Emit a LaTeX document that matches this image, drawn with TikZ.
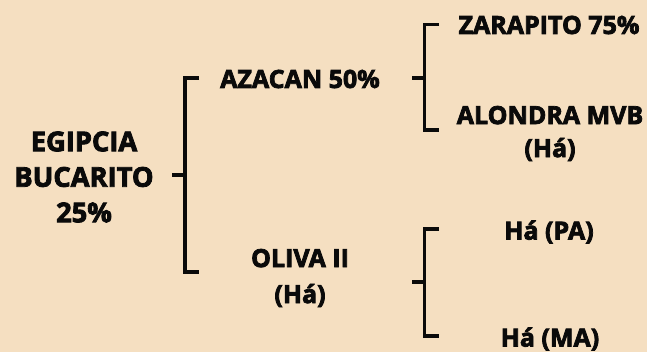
\documentclass[tikz,border=0pt]{standalone}
\usepackage{fontspec}
\setmainfont{Open Sans}[BoldFeatures={FakeBold=3}]
\definecolor{bg}{HTML}{F5DFC1}
\definecolor{ink}{HTML}{0A0A0A}
\begin{document}
\begin{tikzpicture}[x=1pt,y=-1pt,
  lbl/.style={text=ink,align=center,inner sep=0pt,font=\bfseries\fontsize{25}{33}\selectfont},
  biglbl/.style={lbl,font=\bfseries\fontsize{27.3}{35.5}\selectfont},
  brk/.style={draw=ink,line width=3.1pt,line cap=butt,line join=miter}]
\fill[bg] (0,0) rectangle (647,352);
\useasboundingbox (0,0) rectangle (647,352);
\node[biglbl] (egip) at (84,177) {EGIPCIA\\BUCARITO\\25\%};
\node[lbl] (azacan) at (300,79) {AZACAN 50\%};
\node[lbl] (zara) at (549,25) {ZARAPITO 75\%};
\node[lbl] (alondra) at (550,133.5) {ALONDRA MVB\\(Há)};
\node[lbl,font=\bfseries\fontsize{25}{36}\selectfont] (oliva) at (300,278) {OLIVA II\\(Há)};
\node[lbl] (hapa) at (549,232) {Há (PA)};
\node[lbl] (hama) at (550,339) {Há (MA)};
% bracket 1
\coordinate (b1a) at (199,78);
\coordinate (b1b) at (199,272);
\coordinate (b1t) at (172,175);
\draw[brk] (b1a) -- (185,78) -- (185,272) -- (b1b);
\draw[brk] (b1t) -- (185,175);
% bracket 2
\coordinate (b2a) at (439,24.5);
\coordinate (b2b) at (439,130);
\coordinate (b2t) at (412,78);
\draw[brk] (b2a) -- (424.5,24.5) -- (424.5,130) -- (b2b);
\draw[brk] (b2t) -- (424.5,78);
% bracket 3
\coordinate (b3a) at (439,229);
\coordinate (b3b) at (439,336);
\coordinate (b3t) at (412,282);
\draw[brk] (b3a) -- (424.5,229) -- (424.5,336) -- (b3b);
\draw[brk] (b3t) -- (424.5,282);
\end{tikzpicture}
\end{document}
